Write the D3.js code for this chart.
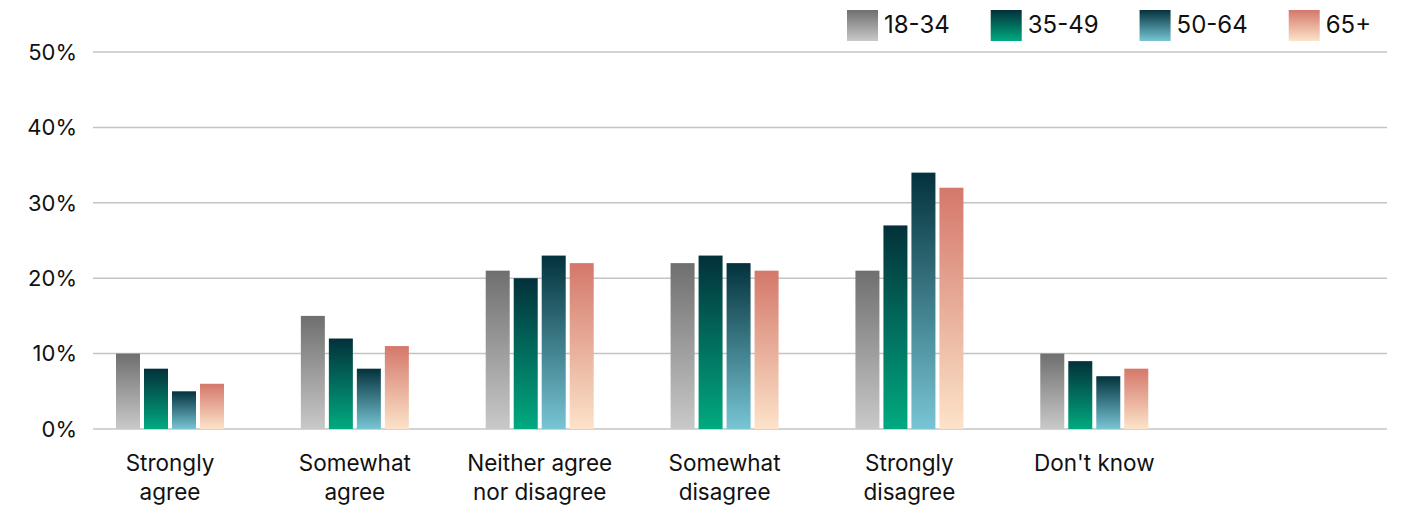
<!DOCTYPE html>
<html>
<head>
<meta charset="utf-8">
<script src="https://cdn.jsdelivr.net/npm/d3@7"></script>
<style>
  body { margin: 0; background: #fff; }
  svg text { font-family: Inter, "Liberation Sans", sans-serif; fill: #111; }
</style>
</head>
<body>
<div id="chart"></div>
<script>
var categories = [["Strongly", "agree"], ["Somewhat", "agree"], ["Neither agree", "nor disagree"],
  ["Somewhat", "disagree"], ["Strongly", "disagree"], ["Don't know"]]
var groups = ["18-34", "35-49", "50-64", "65+"]
var values = [
  [10, 8, 5, 6],
  [15, 12, 8, 11],
  [21, 20, 23, 22],
  [22, 23, 22, 21],
  [21, 27, 34, 32],
  [10, 9, 7, 8]
]
var yTicks = [0, 10, 20, 30, 40, 50]
var gradients = [
  ["#6f6f70", "#c9c9ca"],
  ["#03303a", "#00aa80"],
  ["#03323c", "#78c5d5"],
  ["#d4786a", "#fce3c9"]
]

var width = 1405, height = 509
var margin = { left: 93, right: 18, top: 52, bottom: 80 }

var svg = d3.select("#chart").append("svg")
  .attr("width", width)
  .attr("height", height)

var defs = svg.append("defs")
gradients.forEach(function(g, i) {
  var lg = defs.append("linearGradient")
    .attr("id", "grad" + i)
    .attr("x1", 0).attr("y1", 0).attr("x2", 0).attr("y2", 1)
  lg.append("stop").attr("offset", "0%").attr("stop-color", g[0])
  lg.append("stop").attr("offset", "100%").attr("stop-color", g[1])
})

// 7 slots, last one left empty like the original
var x = d3.scaleBand()
  .domain(d3.range(7))
  .range([margin.left, width - margin.right])

var y = d3.scaleLinear()
  .domain([0, 50])
  .range([height - margin.bottom, margin.top])

// 24px bars, 4px apart, starting 23px into each slot
var inner = d3.scaleBand()
  .domain(d3.range(groups.length))
  .range([23, 131])
  .paddingInner(1 / 7)

svg.append("g")
  .selectAll("line")
  .data(yTicks)
  .join("line")
    .attr("x1", margin.left)
    .attr("x2", width - margin.right)
    .attr("y1", function(d) { return y(d) })
    .attr("y2", function(d) { return y(d) })
    .attr("stroke", "#c4c4c4")
    .attr("stroke-width", 1.5)

svg.append("g")
  .selectAll("text")
  .data(yTicks)
  .join("text")
    .attr("x", 77)
    .attr("y", function(d) { return y(d) })
    .attr("dy", "0.35em")
    .attr("text-anchor", "end")
    .style("font-size", "22px")
    .text(function(d) { return d + "%" })

var cat = svg.append("g")
  .selectAll("g")
  .data(values)
  .join("g")
    .attr("transform", function(d, i) { return "translate(" + x(i) + ",0)" })

cat.selectAll("rect")
  .data(function(d) { return d })
  .join("rect")
    .attr("x", function(d, j) { return inner(j) })
    .attr("width", inner.bandwidth())
    .attr("y", function(d) { return y(d) })
    .attr("height", function(d) { return y(0) - y(d) })
    .attr("fill", function(d, j) { return "url(#grad" + j + ")" })

var labelX = 23 + 108 / 2
cat.append("text")
  .attr("x", labelX)
  .attr("y", 471)
  .attr("text-anchor", "middle")
  .style("font-size", "22.5px")
  .selectAll("tspan")
  .data(function(d, i) { return categories[i] })
  .join("tspan")
    .attr("x", labelX)
    .attr("dy", function(d, k) { return k ? 29 : 0 })
    .text(function(d) { return d })

// legend, each item placed after the previous text
var legend = svg.append("g")
var lx = 847
groups.forEach(function(g, i) {
  var item = legend.append("g").attr("transform", "translate(" + lx + ",0)")
  item.append("rect")
    .attr("x", 0).attr("y", 10)
    .attr("width", 31).attr("height", 31)
    .attr("fill", "url(#grad" + i + ")")
  var t = item.append("text")
    .attr("x", 37).attr("y", 25)
    .attr("dy", "0.35em")
    .style("font-size", "24px")
    .text(g)
  lx += 37 + t.node().getComputedTextLength() + 41
})
</script>
</body>
</html>
